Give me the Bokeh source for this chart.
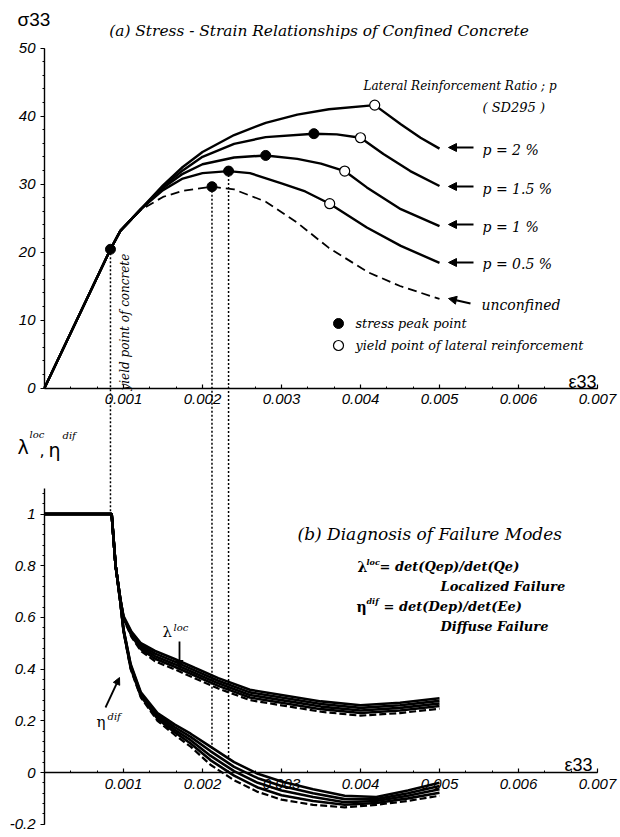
import math
from bokeh.plotting import figure
from bokeh.models import (Range1d, LinearAxis, FixedTicker, NumeralTickFormatter,
                          Label, Arrow, NormalHead)
from bokeh.embed import file_html
from bokeh.resources import INLINE

# ---------------- data: panel (a) stress-strain ----------------
eps_p20 = [0, 0.000835, 0.00096, 0.00122, 0.0015, 0.00175, 0.0020, 0.0024, 0.0028, 0.0032, 0.0036, 0.00418, 0.00451, 0.00476, 0.0050]
sig_p20 = [0, 20.4, 23.1, 26.3, 29.8, 32.5, 34.7, 37.2, 39.0, 40.2, 41.0, 41.6, 38.8, 36.8, 35.2]
eps_p15 = [0, 0.000835, 0.00096, 0.00122, 0.0015, 0.00175, 0.0020, 0.0024, 0.0028, 0.00341, 0.0037, 0.0040, 0.00429, 0.00463, 0.0050]
sig_p15 = [0, 20.4, 23.1, 26.3, 29.6, 32.0, 34.0, 35.9, 36.9, 37.4, 37.3, 36.8, 34.4, 31.9, 29.7]
eps_p10 = [0, 0.000835, 0.00096, 0.00122, 0.0015, 0.00175, 0.0020, 0.0024, 0.0028, 0.0032, 0.0035, 0.0038, 0.00408, 0.00451, 0.0050]
sig_p10 = [0, 20.4, 23.1, 26.3, 29.4, 31.5, 32.9, 33.9, 34.2, 33.7, 33.0, 31.9, 29.5, 26.3, 23.8]
eps_p05 = [0, 0.000835, 0.00096, 0.00122, 0.0015, 0.00175, 0.0020, 0.00233, 0.0026, 0.0030, 0.0033, 0.00361, 0.00408, 0.00451, 0.0050]
sig_p05 = [0, 20.4, 23.1, 26.3, 29.1, 30.8, 31.6, 31.9, 31.6, 30.1, 28.9, 27.1, 23.6, 20.9, 18.4]
eps_unc = [0.000835, 0.00096, 0.00122, 0.0015, 0.00175, 0.00212, 0.0024, 0.0028, 0.0032, 0.0036, 0.0041, 0.0045, 0.0050]
sig_unc = [20.4, 23.1, 26.2, 28.1, 29.0, 29.6, 29.2, 27.4, 24.3, 20.6, 17.0, 15.0, 13.1]

peak_eps = [0.000835, 0.00212, 0.00233, 0.0028, 0.00341]
peak_sig = [20.4, 29.6, 31.9, 34.2, 37.4]
latyield_eps = [0.00361, 0.0038, 0.0040, 0.00418]
latyield_sig = [27.1, 31.9, 36.8, 41.6]

vline_eps = [0.000835, 0.00212, 0.00233]
vline_sig_top = [20.4, 29.6, 31.9]
vline_ratio_end = [1.0, 0.085, 0.055]

# ---------------- data: panel (b) failure diagnosis ----------------
lam_eps = [0, 0.00085, 0.0009, 0.00096, 0.0010, 0.0011, 0.00122, 0.0014, 0.00164, 0.0019, 0.0022, 0.0026, 0.0030, 0.0035, 0.0040, 0.0045, 0.0050]
lam_p20 = [1.0, 1.0, 0.80, 0.67, 0.605, 0.545, 0.50, 0.47, 0.44, 0.405, 0.365, 0.32, 0.30, 0.275, 0.26, 0.27, 0.287]
lam_p15 = [1.0, 1.0, 0.80, 0.67, 0.60, 0.54, 0.493, 0.46, 0.43, 0.395, 0.355, 0.31, 0.29, 0.265, 0.25, 0.26, 0.277]
lam_p10 = [1.0, 1.0, 0.80, 0.67, 0.60, 0.535, 0.485, 0.45, 0.42, 0.385, 0.345, 0.30, 0.28, 0.255, 0.24, 0.25, 0.267]
lam_p05 = [1.0, 1.0, 0.80, 0.67, 0.598, 0.53, 0.477, 0.44, 0.41, 0.375, 0.335, 0.29, 0.27, 0.245, 0.23, 0.24, 0.257]
lam_unc = [1.0, 1.0, 0.80, 0.67, 0.595, 0.525, 0.47, 0.43, 0.40, 0.365, 0.325, 0.28, 0.26, 0.235, 0.22, 0.23, 0.247]

eta_eps = [0, 0.00085, 0.0009, 0.00096, 0.0010, 0.00109, 0.00122, 0.00143, 0.00165, 0.00185, 0.0021, 0.0024, 0.0027, 0.0030, 0.0034, 0.0038, 0.0042, 0.0046, 0.0050]
eta_p20 = [1.0, 1.0, 0.80, 0.66, 0.555, 0.42, 0.31, 0.23, 0.185, 0.15, 0.10, 0.04, -0.005, -0.035, -0.065, -0.09, -0.095, -0.07, -0.04]
eta_p15 = [1.0, 1.0, 0.80, 0.66, 0.553, 0.415, 0.305, 0.222, 0.175, 0.138, 0.083, 0.022, -0.022, -0.052, -0.08, -0.103, -0.103, -0.08, -0.052]
eta_p10 = [1.0, 1.0, 0.80, 0.66, 0.55, 0.41, 0.30, 0.215, 0.165, 0.125, 0.065, 0.005, -0.04, -0.07, -0.095, -0.115, -0.11, -0.09, -0.065]
eta_p05 = [1.0, 1.0, 0.80, 0.66, 0.547, 0.405, 0.295, 0.208, 0.155, 0.112, 0.048, -0.012, -0.058, -0.088, -0.11, -0.125, -0.118, -0.10, -0.078]
eta_unc = [1.0, 1.0, 0.80, 0.66, 0.545, 0.40, 0.29, 0.20, 0.145, 0.10, 0.03, -0.03, -0.075, -0.105, -0.125, -0.135, -0.125, -0.11, -0.09]

# ---------------- ticks ----------------
eps_ticks = [0.001, 0.002, 0.003, 0.004, 0.005, 0.006, 0.007]
sig_ticks = [0, 10, 20, 30, 40, 50]
ratio_ticks = [-0.2, 0, 0.2, 0.4, 0.6, 0.8, 1.0]

# ---------------- layout calibration (pixels) ----------------
W, H = 620, 837
X0_PX, X_SCALE = 44.0, 79000.0       # strain -> px
TOP0_PX, TOP_SCALE = 387.5, 6.8      # sigma -> px (downwards)
B0_PX, B_SCALE = 772.0, 258.5        # ratio -> px (downwards)


def px2x(px):
    return (px - X0_PX) / X_SCALE


def py2y(py):
    return (TOP0_PX - py) / TOP_SCALE


def b2y(b):
    return py2y(B0_PX - B_SCALE * b)


p = figure(width=W, height=H,
           x_range=Range1d(px2x(0), px2x(W)),
           y_range=Range1d(py2y(H), py2y(0)),
           output_backend="svg", toolbar_location=None,
           x_axis_type=None, y_axis_type=None, min_border=0)
p.extra_y_ranges = {"b": Range1d((B0_PX - H) / B_SCALE, B0_PX / B_SCALE)}
p.outline_line_color = None
p.background_fill_color = "white"
p.border_fill_color = "white"

TICK_FONT = "Liberation Sans"


def style_axis(ax, vertical):
    ax.axis_line_width = 1.4
    ax.axis_line_color = "black"
    ax.major_tick_line_width = 1.2
    ax.minor_tick_line_width = 1.0
    ax.major_tick_line_color = "black"
    ax.minor_tick_line_color = "black"
    if vertical:
        ax.major_tick_out, ax.major_tick_in = 4, 0
        ax.minor_tick_out, ax.minor_tick_in = 2, 0
        ax.major_label_standoff = 5
    else:
        ax.major_tick_out, ax.major_tick_in = 0, 4
        ax.minor_tick_out, ax.minor_tick_in = 0, 2
        ax.major_label_standoff = 6
    ax.major_label_text_font = TICK_FONT
    ax.major_label_text_font_style = "italic"
    ax.major_label_text_font_size = "15px"
    ax.major_label_text_color = "black"


eps_minor = [i * 0.001 / 3 for i in range(1, 22)]
sig_minor = [i * 2 for i in range(0, 26)]
ratio_minor = [round(-0.2 + i * 0.04, 3) for i in range(0, 33)]

# top y axis
ay1 = LinearAxis(fixed_location=0, bounds=(0, 50),
                 ticker=FixedTicker(ticks=sig_ticks, minor_ticks=sig_minor),
                 formatter=NumeralTickFormatter(format="0"))
style_axis(ay1, True)
p.add_layout(ay1, "left")

# top x axis
ax1 = LinearAxis(fixed_location=0, bounds=(0, 0.007),
                 ticker=FixedTicker(ticks=eps_ticks, minor_ticks=eps_minor),
                 formatter=NumeralTickFormatter(format="0.000"))
style_axis(ax1, False)
p.add_layout(ax1, "below")

# bottom y axis
ay2 = LinearAxis(y_range_name="b", fixed_location=0, bounds=(-0.2, 1.1),
                 ticker=FixedTicker(ticks=ratio_ticks, minor_ticks=ratio_minor),
                 formatter=NumeralTickFormatter(format="0.[0]"))
style_axis(ay2, True)
p.add_layout(ay2, "left")

# bottom x axis
ax2 = LinearAxis(fixed_location=b2y(0), bounds=(0, 0.007),
                 ticker=FixedTicker(ticks=eps_ticks, minor_ticks=eps_minor),
                 formatter=NumeralTickFormatter(format="0.000"))
style_axis(ax2, False)
p.add_layout(ax2, "below")

# ---------------- panel (a) glyphs ----------------
for ex, sy in [(eps_p20, sig_p20), (eps_p15, sig_p15), (eps_p10, sig_p10), (eps_p05, sig_p05)]:
    p.line(ex, sy, line_width=2.4, line_color="black", line_join="round")
p.line(eps_unc, sig_unc, line_width=1.8, line_color="black", line_dash="9 5")

# dotted vertical guide lines
p.segment(x0=vline_eps, y0=vline_sig_top, x1=vline_eps,
          y1=[b2y(v) for v in vline_ratio_end],
          line_width=1.5, line_color="black", line_dash="2 2")

p.scatter(peak_eps, peak_sig, size=10, marker="circle", fill_color="black", line_color="black")
p.scatter(latyield_eps, latyield_sig, size=10, marker="circle", fill_color="white",
          line_color="black", line_width=1.2)

# ---------------- panel (b) glyphs ----------------
for ly in [lam_p20, lam_p15, lam_p10, lam_p05]:
    p.line(lam_eps, ly, y_range_name="b", line_width=2.6, line_color="black")
p.line(lam_eps, lam_unc, y_range_name="b", line_width=2.2, line_color="black", line_dash="7 3")
for ey in [eta_p20, eta_p15, eta_p10, eta_p05]:
    p.line(eta_eps, ey, y_range_name="b", line_width=2.6, line_color="black")
p.line(eta_eps, eta_unc, y_range_name="b", line_width=2.2, line_color="black", line_dash="7 3")

# ---------------- texts ----------------
SERIF = "DejaVu Serif"


def lab(x, y, text, size=13, style="italic", font=SERIF, align="left", baseline="middle", angle=0.0):
    p.add_layout(Label(x=px2x(x), y=py2y(y), text=text, text_font=font,
                       text_font_size=f"{size}px", text_font_style=style,
                       text_align=align, text_baseline=baseline, angle=angle,
                       text_color="black"))


def arrow(x0, y0, x1, y1, size=8, width=2.2):
    p.add_layout(Arrow(end=NormalHead(size=size, fill_color="black", line_color="black", line_width=1),
                       x_start=px2x(x0), y_start=py2y(y0), x_end=px2x(x1), y_end=py2y(y1),
                       line_width=width, line_color="black"))


lab(17, 19, "σ33", 19, "normal", "Liberation Sans")
lab(321, 30, "(a)  Stress - Strain Relationships of Confined Concrete", 15.4, align="center")
lab(363, 85, "Lateral Reinforcement Ratio ; p", 12)
lab(482, 107, "( SD295 )", 13)

curve_labels = ["p = 2 %", "p = 1.5 %", "p = 1 %", "p = 0.5 %"]
label_rows = [149, 188, 226, 263]
arrow_rows = [147, 186, 224, 262]
for t, ly, ay in zip(curve_labels, label_rows, arrow_rows):
    lab(482, ly, t, 14)
    arrow(473, ay, 448, ay)
lab(481, 304, "unconfined", 14)
arrow(470, 303, 448, 298)

p.scatter([px2x(338)], [py2y(323)], size=10, marker="circle", fill_color="black", line_color="black")
p.scatter([px2x(338)], [py2y(345)], size=10, marker="circle", fill_color="white", line_color="black", line_width=1.2)
lab(355, 323, "stress peak point", 12.8)
lab(355, 345, "yield point of lateral reinforcement", 12.8)

lab(124, 390, "yield point of concrete", 12, angle=math.pi / 2)

lab(568, 381, "ε33", 18, "normal", "Liberation Sans")
lab(564, 764, "ε33", 18, "normal", "Liberation Sans")

# bottom y label  λ^loc, η^dif
lab(17, 446, "λ", 19, "normal", "DejaVu Sans")
lab(29, 434, "loc", 10)
lab(39, 449, ",", 16, "normal", "DejaVu Sans")
lab(48, 449, "η", 19, "normal", "DejaVu Sans")
lab(62, 435, "dif", 10)

lab(297, 533, "(b)  Diagnosis of Failure Modes", 17)
lab(357, 566, "λ", 14, "bold", "DejaVu Serif")
lab(366, 561, "loc", 8, "bold italic")
lab(379, 566, "= det(Qep)/det(Qe)", 13, "bold italic")
lab(440, 586, "Localized Failure", 13, "bold italic")
lab(356, 606, "η", 14, "bold", "DejaVu Serif")
lab(366, 600, "dif", 8, "bold italic")
lab(383, 606, "= det(Dep)/det(Ee)", 13, "bold italic")
lab(440, 626, "Diffuse Failure", 13, "bold italic")

lab(162, 631, "λ", 15, "normal", "DejaVu Serif")
lab(173, 627, "loc", 10)
arrow(179, 641, 179, 667, size=7, width=1.8)
lab(96, 721, "η", 15, "normal", "DejaVu Serif")
lab(107, 716, "dif", 10)
arrow(105, 707, 119, 677, size=7, width=1.8)

open("out.html", "w").write(file_html(p, INLINE))
